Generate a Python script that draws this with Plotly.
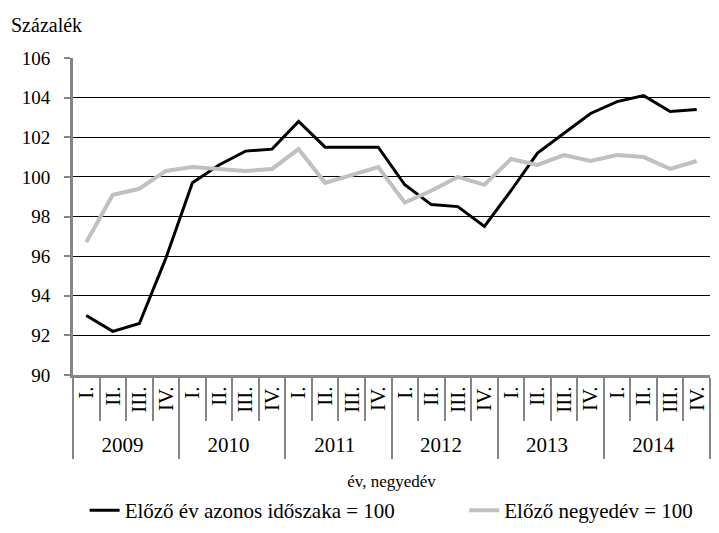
import plotly.graph_objects as go

# ── data ──────────────────────────────────────────────
years = ["2009", "2010", "2011", "2012", "2013", "2014"]
quarters = ["I.", "II.", "III.", "IV."]

yoy = [93.0, 92.2, 92.6, 95.9,
       99.7, 100.6, 101.3, 101.4,
       102.8, 101.5, 101.5, 101.5,
       99.6, 98.6, 98.5, 97.5,
       99.3, 101.2, 102.2, 103.2,
       103.8, 104.1, 103.3, 103.4]

qoq = [96.7, 99.1, 99.4, 100.3,
       100.5, 100.4, 100.3, 100.4,
       101.4, 99.7, 100.1, 100.5,
       98.7, 99.3, 100.0, 99.6,
       100.9, 100.6, 101.1, 100.8,
       101.1, 101.0, 100.4, 100.8]

name_yoy = "Előző év azonos időszaka = 100"
name_qoq = "Előző negyedév = 100"

x_outer = [y for y in years for _ in quarters]
x_inner = [q for _ in years for q in quarters]

FONT = "Liberation Serif, Times New Roman, Times, serif"
AXIS_GREY = "#868686"

# page body has an 8px margin -> figure is 16px smaller than the window
fig = go.Figure()
fig.add_trace(go.Scatter(x=[x_outer, x_inner], y=yoy, mode="lines",
                         name=name_yoy, line=dict(color="black", width=3),
                         legend="legend"))
fig.add_trace(go.Scatter(x=[x_outer, x_inner], y=qoq, mode="lines",
                         name=name_qoq, line=dict(color="#c0c0c0", width=4),
                         legend="legend2"))

leg_common = dict(orientation="h", xref="container", yref="container",
                  xanchor="left", yanchor="middle", y=0.028,
                  font=dict(size=21), bgcolor="rgba(0,0,0,0)")

fig.update_layout(
    width=703, height=517,
    margin=dict(l=65, r=1, t=50, b=150),
    paper_bgcolor="white", plot_bgcolor="white",
    font=dict(family=FONT, size=19, color="black"),
    showlegend=True,
    legend=dict(x=0.109, **leg_common),
    legend2=dict(x=0.649, **leg_common),
    annotations=[dict(text="Százalék", x=0, y=1, xref="paper", yref="paper",
                      xshift=-64, yshift=33, xanchor="left", yanchor="middle",
                      showarrow=False, font=dict(size=20))],
)

fig.update_yaxes(range=[90, 106], dtick=2, showgrid=True, gridcolor="black", gridwidth=1,
                 showline=True, linecolor=AXIS_GREY, linewidth=3,
                 ticks="outside", ticklen=6, tickcolor=AXIS_GREY, tickwidth=2,
                 ticklabelstandoff=10,
                 zeroline=False, tickfont=dict(size=19))

fig.update_xaxes(type="multicategory", range=[-0.5, 23.5],
                 showline=True, linecolor=AXIS_GREY, linewidth=3,
                 ticks="outside", tickson="boundaries", ticklen=43,
                 tickcolor=AXIS_GREY, tickwidth=2, tickangle=-90,
                 showdividers=True, dividercolor=AXIS_GREY, dividerwidth=2,
                 showgrid=False, tickfont=dict(size=21),
                 title=dict(text="év, negyedév", font=dict(size=17), standoff=19))

fig.write_html("out.html")
